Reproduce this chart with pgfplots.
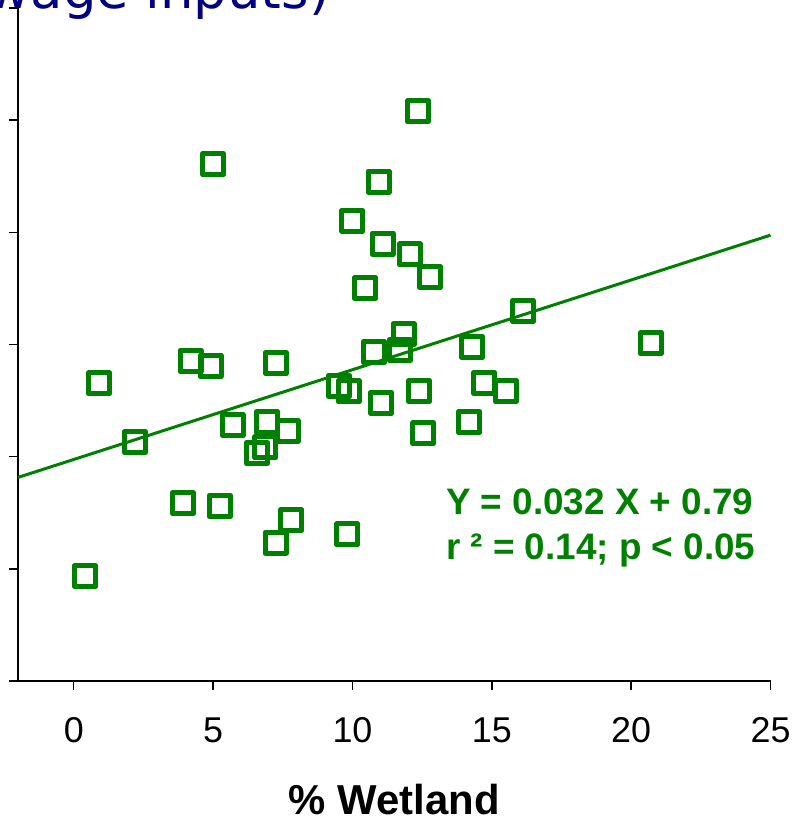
\documentclass[border=0pt]{standalone}
\usepackage{fontspec}
\setmainfont{Liberation Sans}
\newfontfamily\titlefont{DejaVu Sans}
\usepackage{pgfplots}
\pgfplotsset{compat=1.18}
\definecolor{dgreen}{RGB}{0,128,0}
\definecolor{navyblue}{RGB}{0,0,128}
\begin{document}
\begin{tikzpicture}
\begin{axis}[
  at={(0,0)}, anchor=south west,
  scale only axis,
  width=752.5bp, height=673bp,
  xmin=-2, xmax=25, ymin=0, ymax=2.4,
  axis x line*=bottom, axis y line*=left,
  axis line style={black, line width=1.4bp, -},
  xtick={0,5,10,15,20,25},
  ytick={0,0.4,0.8,1.2,1.6,2.0,2.4},
  yticklabels={},
  tick align=outside,
  major tick length=9bp,
  tick style={black, line width=1.4bp},
  /pgf/number format/assume math mode=true,
  xticklabel style={font=\fontsize{36}{36}\selectfont, anchor=base, yshift=-52bp},
  xlabel={\% Wetland},
  xlabel style={font=\fontsize{42}{42}\selectfont\bfseries, at={(axis description cs:0.5,0)}, anchor=base, yshift=-133bp},
  clip=false,
]
\addplot[dgreen, line width=3bp, no marks] coordinates {(-2,0.726) (25,1.59)};
\addplot[only marks, mark=square, mark size=10.5bp,
  mark options={draw=dgreen, line width=5bp, line join=round, fill=none}]
  table[row sep=\\] {
  x y \\
  12.35 2.032 \\
  5.00 1.843 \\
  10.94 1.781 \\
  10.00 1.641 \\
  11.08 1.560 \\
  12.06 1.521 \\
  12.78 1.441 \\
  10.46 1.401 \\
  16.11 1.319 \\
  11.84 1.236 \\
  11.70 1.180 \\
  10.77 1.173 \\
  14.29 1.192 \\
  20.71 1.205 \\
  4.19 1.142 \\
  4.91 1.123 \\
  7.25 1.133 \\
  0.91 1.061 \\
  9.52 1.053 \\
  9.86 1.033 \\
  11.02 0.992 \\
  12.39 1.034 \\
  14.73 1.063 \\
  15.50 1.034 \\
  2.19 0.852 \\
  5.70 0.913 \\
  6.94 0.924 \\
  7.67 0.892 \\
  6.88 0.833 \\
  6.58 0.812 \\
  14.19 0.923 \\
  12.54 0.883 \\
  3.92 0.634 \\
  5.24 0.624 \\
  7.80 0.574 \\
  7.24 0.493 \\
  9.82 0.523 \\
  0.41 0.374 \\
  };
\node[anchor=base west, inner sep=0, text=dgreen, font=\fontsize{37}{37}\selectfont\bfseries] at (axis cs:13.35,0.592) {Y = 0.032 X + 0.79};
\node[anchor=base west, inner sep=0, text=dgreen, font=\fontsize{37}{37}\selectfont\bfseries] at (axis cs:13.35,0.435) {r ² = 0.14; p < 0.05};
\end{axis}
\node[anchor=base east, inner sep=0, text=navyblue, font=\titlefont\fontsize{53}{53}\selectfont] at (312bp,672bp) {(\% of sewage inputs)};
\pgfresetboundingbox
\useasboundingbox (-18bp,-140bp) rectangle (780bp,681bp);
\end{tikzpicture}
\end{document}
